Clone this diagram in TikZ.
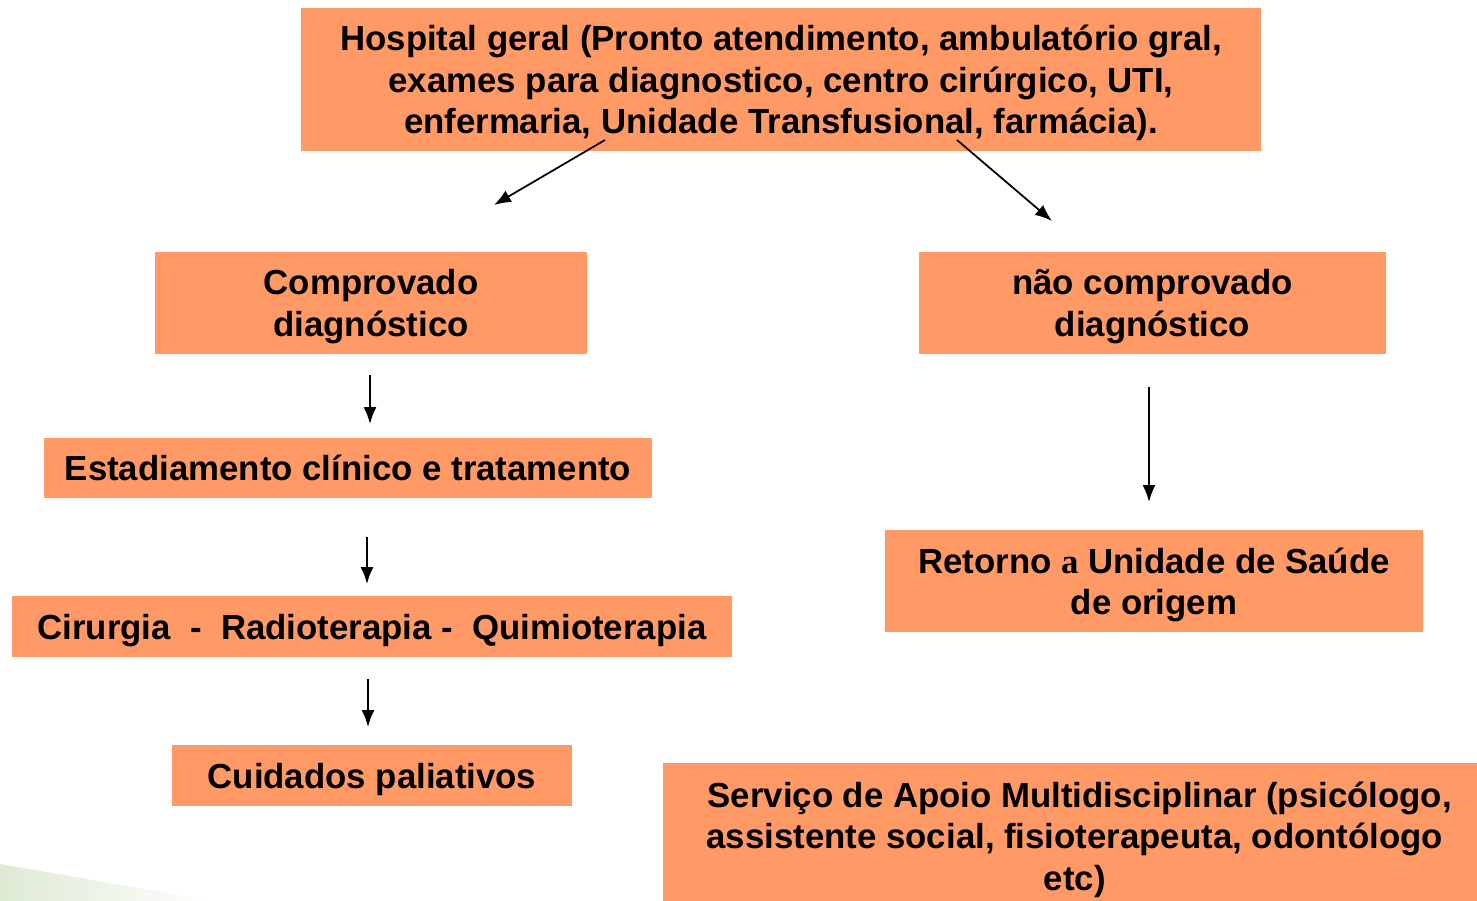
\documentclass[tikz,border=0pt]{standalone}
\usepackage{fontspec}
\setmainfont{Liberation Sans}
\newfontfamily\timesbf{Liberation Serif}
\usetikzlibrary{arrows.meta,positioning}
\definecolor{boxorange}{RGB}{255,153,102}
\definecolor{swoosh}{RGB}{222,234,212}

\tikzset{
  box/.style={fill=boxorange, align=center, inner sep=0pt, text depth=0pt,
    font=\bfseries\fontsize{19.8}{23.5}\selectfont},
  flow/.style={-{Latex[length=3.4mm,width=2.6mm]}, line width=1pt}
}

\begin{document}
\begin{tikzpicture}[x=0.02cm,y=-0.02cm]
  \useasboundingbox (0,0) rectangle (1477,901);
  % background corner
  \shade[left color=swoosh, right color=white] (0,864) -- (215,901) -- (0,901) -- cycle;

  \node[box, minimum width=19.2cm, minimum height=2.86cm] (hosp) at (781,79.5)
    {Hospital geral (Pronto atendimento, ambulatório gral,\\
     exames para diagnostico, centro cirúrgico, UTI,\\
     enfermaria, Unidade Transfusional, farmácia).};
  \node[box, minimum width=8.64cm, minimum height=2.04cm] (comp) at (371,303)
    {Comprovado\\ diagnóstico};
  \node[box, minimum width=9.34cm, minimum height=2.04cm] (ncomp) at (1152.5,303)
    {não comprovado\\ diagnóstico};
  \node[box, minimum width=12.16cm, minimum height=1.2cm] (estad) at (348,468)
    {Estadiamento clínico e tratamento};
  \node[box, minimum width=14.4cm, minimum height=1.22cm] (trat) at (372,626.5)
    {Cirurgia \ - \ Radioterapia - \ Quimioterapia};
  \node[box, minimum width=8cm, minimum height=1.22cm] (palia) at (372,775.5)
    {Cuidados paliativos};
  \node[box, minimum width=10.76cm, minimum height=2.04cm] (ret) at (1154,581)
    {Retorno {\timesbf a} Unidade de Saúde\\ de origem};
  \node[box, minimum width=16.28cm, minimum height=2.92cm] (apoio) at (1070,836)
    {\ \ Serviço de Apoio Multidisciplinar (psicólogo,\\
     \ assistente social, fisioterapeuta, odontólogo\\ \ etc)};

  % arrow ends
  \coordinate (h1) at (605,140);  \coordinate (c1) at (494,205);
  \coordinate (h2) at (957,140);  \coordinate (n1) at (1052,221);
  \coordinate (c2) at (370,375);  \coordinate (e1) at (370,424);
  \coordinate (n2) at (1149,387); \coordinate (r1) at (1149,502);
  \coordinate (e2) at (367,537);  \coordinate (t1) at (367,584);
  \coordinate (t2) at (368,679);  \coordinate (p1) at (368,727);

  \draw[flow] (h1) -- (c1);
  \draw[flow] (h2) -- (n1);
  \draw[flow] (c2) -- (e1);
  \draw[flow] (n2) -- (r1);
  \draw[flow] (e2) -- (t1);
  \draw[flow] (t2) -- (p1);
\end{tikzpicture}
\end{document}
